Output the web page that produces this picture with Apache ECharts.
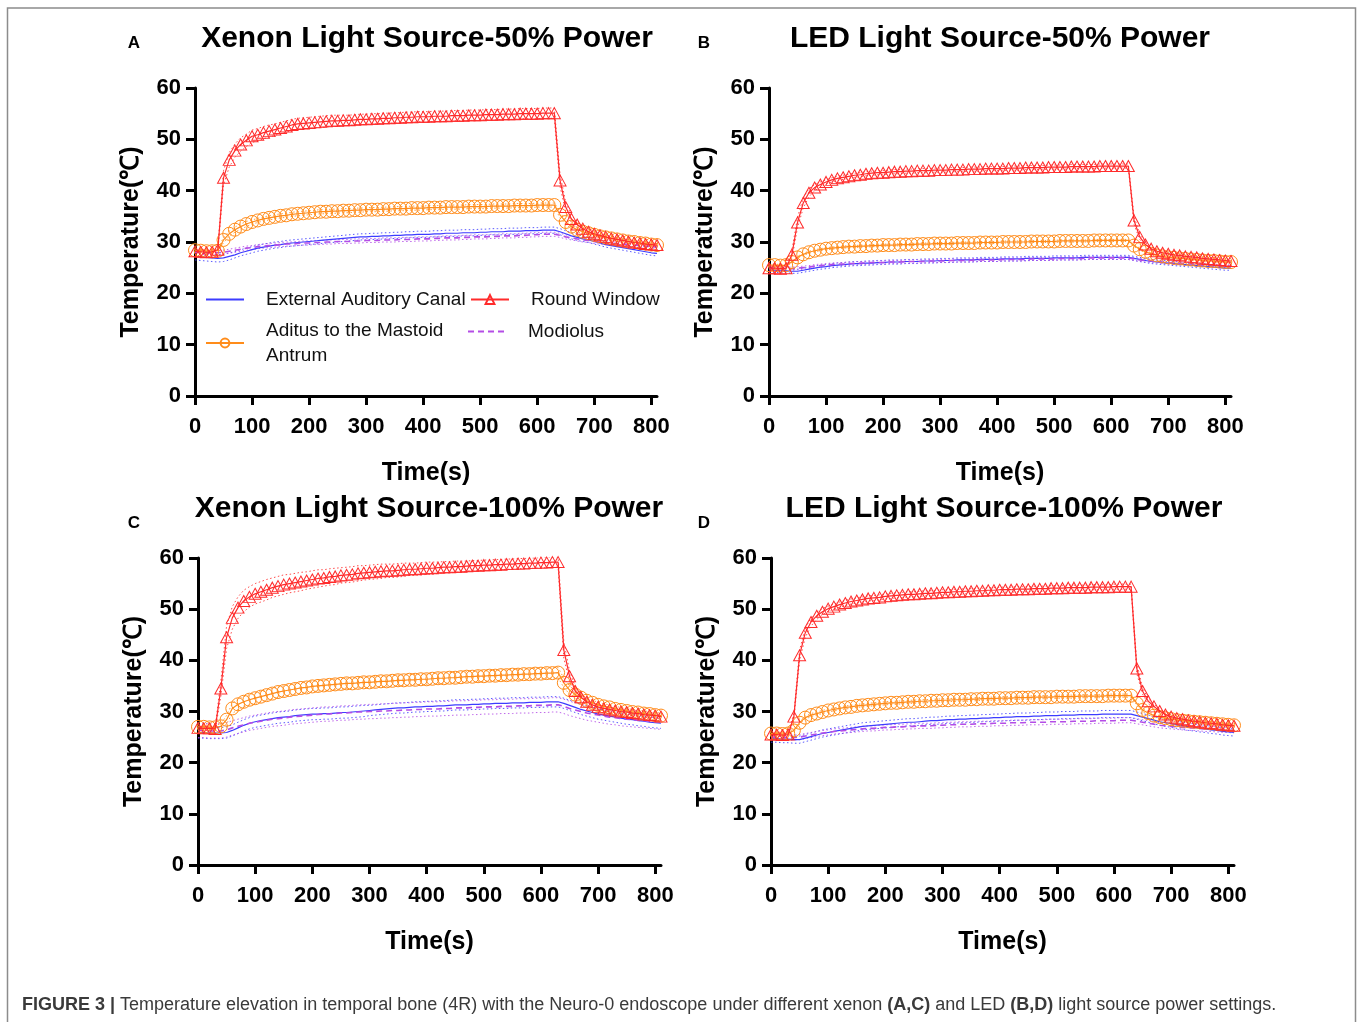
<!DOCTYPE html>
<html>
<head>
<meta charset="utf-8">
<title>Figure 3 - temperature elevation</title>
<script src="https://cdn.jsdelivr.net/npm/echarts@6/dist/echarts.min.js"></script>
<style>
  html, body { margin: 0; padding: 0; background: #fff; }
  #chart { width: 1358px; height: 1022px; }
</style>
</head>
<body>
<div id="chart"></div>
<script>
// time points (s), one reading every 10 s
const time = [
  0, 10, 20, 30, 40, 50, 60, 70, 80, 90,
  100, 110, 120, 130, 140, 150, 160, 170, 180, 190,
  200, 210, 220, 230, 240, 250, 260, 270, 280, 290,
  300, 310, 320, 330, 340, 350, 360, 370, 380, 390,
  400, 410, 420, 430, 440, 450, 460, 470, 480, 490,
  500, 510, 520, 530, 540, 550, 560, 570, 580, 590,
  600, 610, 620, 630, 640, 650, 660, 670, 680, 690,
  700, 710, 720, 730, 740, 750, 760, 770, 780, 790,
  800, 810
]
const xTicks = [0, 100, 200, 300, 400, 500, 600, 700, 800]

// ---- A: Xenon 50% ----
const rwA = [
  28.2, 28.1, 28.0, 28.1, 28.5, 42.5, 46.0, 47.8, 49.0, 49.8,
  50.6, 50.9, 51.3, 51.6, 51.9, 52.2, 52.5, 52.8, 53.0, 53.1,
  53.2, 53.3, 53.4, 53.5, 53.6, 53.6, 53.7, 53.7, 53.8, 53.9,
  53.9, 54.0, 54.0, 54.1, 54.1, 54.2, 54.2, 54.3, 54.3, 54.4,
  54.4, 54.4, 54.5, 54.5, 54.5, 54.6, 54.6, 54.6, 54.7, 54.7,
  54.7, 54.8, 54.8, 54.8, 54.9, 54.9, 54.9, 55.0, 55.0, 55.0,
  55.0, 55.1, 55.1, 55.1, 42.0, 36.8, 34.5, 33.4, 32.6, 32.0,
  31.6, 31.3, 31.0, 30.7, 30.5, 30.3, 30.1, 29.9, 29.8, 29.6,
  29.5, 29.4
]
const rwA_sd = [
  0.3, 0.3, 0.3, 0.3, 0.4, 1.4, 1.4, 1.3, 1.3, 1.2,
  1.2, 1.2, 1.2, 1.2, 1.1, 1.1, 1.1, 1.1, 1.1, 1.1,
  1.1, 1.1, 1.1, 1.1, 1.1, 1.1, 1.0, 1.0, 1.0, 1.0,
  1.0, 1.0, 1.0, 1.0, 1.0, 1.0, 1.0, 1.0, 1.0, 1.0,
  1.0, 1.0, 1.0, 1.0, 1.0, 1.0, 1.0, 1.0, 1.0, 1.0,
  1.0, 1.0, 1.0, 1.0, 1.0, 1.0, 1.0, 1.0, 1.0, 1.0,
  1.0, 1.0, 1.0, 1.0, 1.2, 0.9, 0.7, 0.6, 0.5, 0.5,
  0.5, 0.4, 0.4, 0.4, 0.4, 0.4, 0.4, 0.3, 0.3, 0.3,
  0.3, 0.3
]
const adA = [
  28.4, 28.3, 28.2, 28.2, 28.3, 30.4, 31.6, 32.4, 33.0, 33.5,
  33.9, 34.2, 34.5, 34.7, 34.9, 35.1, 35.2, 35.4, 35.5, 35.6,
  35.7, 35.8, 35.9, 35.9, 36.0, 36.0, 36.1, 36.1, 36.2, 36.2,
  36.3, 36.3, 36.3, 36.4, 36.4, 36.5, 36.5, 36.5, 36.6, 36.6,
  36.6, 36.7, 36.7, 36.7, 36.8, 36.8, 36.8, 36.8, 36.9, 36.9,
  36.9, 36.9, 37.0, 37.0, 37.0, 37.0, 37.1, 37.1, 37.1, 37.1,
  37.2, 37.2, 37.2, 37.2, 35.3, 33.9, 33.0, 32.4, 32.0, 31.7,
  31.4, 31.1, 30.9, 30.7, 30.5, 30.3, 30.1, 30.0, 29.8, 29.7,
  29.5, 29.4
]
const adA_sd = [
  0.3, 0.3, 0.3, 0.3, 0.3, 0.5, 0.5, 0.5, 0.5, 0.5,
  0.4, 0.4, 0.4, 0.4, 0.4, 0.4, 0.4, 0.4, 0.4, 0.4,
  0.4, 0.4, 0.4, 0.4, 0.4, 0.4, 0.4, 0.4, 0.4, 0.4,
  0.4, 0.4, 0.4, 0.4, 0.4, 0.4, 0.4, 0.4, 0.4, 0.4,
  0.4, 0.4, 0.4, 0.4, 0.4, 0.4, 0.4, 0.4, 0.4, 0.4,
  0.4, 0.4, 0.4, 0.4, 0.4, 0.4, 0.4, 0.4, 0.4, 0.4,
  0.4, 0.4, 0.4, 0.4, 0.6, 0.5, 0.4, 0.4, 0.3, 0.3,
  0.3, 0.3, 0.3, 0.3, 0.3, 0.3, 0.3, 0.3, 0.3, 0.3,
  0.3, 0.3
]
const eacA = [
  27.2, 27.1, 27.0, 26.9, 26.8, 26.9, 27.2, 27.5, 27.9, 28.2,
  28.5, 28.8, 29.0, 29.2, 29.4, 29.5, 29.7, 29.8, 29.9, 30.0,
  30.1, 30.2, 30.3, 30.4, 30.5, 30.6, 30.7, 30.8, 30.9, 31.0,
  31.0, 31.1, 31.1, 31.2, 31.2, 31.3, 31.3, 31.4, 31.4, 31.5,
  31.5, 31.5, 31.6, 31.6, 31.7, 31.7, 31.7, 31.8, 31.8, 31.8,
  31.9, 31.9, 32.0, 32.0, 32.0, 32.1, 32.1, 32.1, 32.2, 32.2,
  32.2, 32.3, 32.3, 32.3, 32.0, 31.6, 31.2, 30.9, 30.6, 30.4,
  30.1, 29.8, 29.5, 29.3, 29.1, 28.9, 28.7, 28.5, 28.3, 28.1,
  27.9, 27.8
]
const eacA_sd = [
  0.7, 0.7, 0.7, 0.7, 0.7, 0.7, 0.7, 0.6, 0.6, 0.6,
  0.6, 0.6, 0.6, 0.6, 0.6, 0.6, 0.6, 0.6, 0.6, 0.6,
  0.6, 0.6, 0.6, 0.6, 0.6, 0.6, 0.6, 0.6, 0.6, 0.6,
  0.6, 0.6, 0.6, 0.6, 0.6, 0.6, 0.6, 0.6, 0.6, 0.6,
  0.6, 0.6, 0.6, 0.6, 0.6, 0.6, 0.6, 0.6, 0.6, 0.6,
  0.6, 0.6, 0.6, 0.6, 0.6, 0.6, 0.6, 0.6, 0.6, 0.6,
  0.6, 0.6, 0.6, 0.6, 0.6, 0.6, 0.6, 0.6, 0.5, 0.5,
  0.5, 0.5, 0.5, 0.5, 0.5, 0.5, 0.5, 0.5, 0.5, 0.5,
  0.5, 0.5
]
const modA = [
  28.0, 28.0, 27.9, 27.9, 27.9, 28.0, 28.2, 28.4, 28.6, 28.8,
  28.9, 29.1, 29.2, 29.3, 29.4, 29.5, 29.6, 29.6, 29.7, 29.8,
  29.8, 29.9, 29.9, 30.0, 30.0, 30.1, 30.1, 30.1, 30.2, 30.2,
  30.3, 30.3, 30.3, 30.4, 30.4, 30.4, 30.5, 30.5, 30.5, 30.6,
  30.6, 30.6, 30.7, 30.7, 30.8, 30.8, 30.8, 30.9, 30.9, 31.0,
  31.0, 31.0, 31.1, 31.1, 31.2, 31.2, 31.2, 31.3, 31.3, 31.4,
  31.4, 31.5, 31.5, 31.5, 31.3, 31.0, 30.8, 30.6, 30.4, 30.3,
  30.1, 30.0, 29.9, 29.8, 29.7, 29.6, 29.5, 29.4, 29.3, 29.2,
  29.1, 29.0
]
const modA_sd = [
  0.4, 0.4, 0.4, 0.4, 0.4, 0.4, 0.4, 0.4, 0.4, 0.4,
  0.4, 0.4, 0.4, 0.4, 0.4, 0.4, 0.4, 0.4, 0.4, 0.4,
  0.4, 0.4, 0.4, 0.4, 0.4, 0.4, 0.4, 0.4, 0.4, 0.4,
  0.4, 0.4, 0.4, 0.4, 0.4, 0.4, 0.4, 0.4, 0.4, 0.4,
  0.4, 0.4, 0.4, 0.4, 0.4, 0.4, 0.4, 0.4, 0.4, 0.4,
  0.4, 0.4, 0.4, 0.4, 0.4, 0.4, 0.4, 0.4, 0.4, 0.4,
  0.4, 0.4, 0.4, 0.4, 0.4, 0.4, 0.4, 0.4, 0.4, 0.4,
  0.4, 0.4, 0.4, 0.4, 0.4, 0.4, 0.4, 0.4, 0.4, 0.4,
  0.4, 0.4
]

// ---- B: LED 50% ----
const rwB = [
  24.9, 24.9, 24.8, 24.9, 27.5, 33.8, 37.6, 39.6, 40.6, 41.2,
  41.7, 42.1, 42.4, 42.6, 42.8, 43.0, 43.1, 43.3, 43.4, 43.5,
  43.5, 43.6, 43.7, 43.7, 43.8, 43.8, 43.9, 43.9, 43.9, 44.0,
  44.0, 44.0, 44.1, 44.1, 44.1, 44.2, 44.2, 44.2, 44.3, 44.3,
  44.3, 44.3, 44.4, 44.4, 44.4, 44.5, 44.5, 44.5, 44.5, 44.6,
  44.6, 44.6, 44.6, 44.7, 44.7, 44.7, 44.7, 44.7, 44.8, 44.8,
  44.8, 44.8, 44.8, 44.8, 34.2, 31.0, 29.5, 28.7, 28.2, 27.9,
  27.7, 27.5, 27.4, 27.2, 27.1, 27.0, 26.8, 26.7, 26.6, 26.5,
  26.4, 26.3
]
const rwB_sd = [
  0.3, 0.3, 0.3, 0.3, 0.8, 1.0, 1.0, 0.8, 0.6, 0.5,
  0.4, 0.4, 0.4, 0.4, 0.4, 0.4, 0.4, 0.4, 0.4, 0.4,
  0.4, 0.4, 0.4, 0.4, 0.4, 0.4, 0.4, 0.4, 0.4, 0.4,
  0.4, 0.4, 0.4, 0.4, 0.4, 0.4, 0.4, 0.4, 0.4, 0.4,
  0.4, 0.4, 0.4, 0.4, 0.4, 0.4, 0.4, 0.4, 0.4, 0.4,
  0.4, 0.4, 0.4, 0.4, 0.4, 0.4, 0.4, 0.4, 0.4, 0.4,
  0.4, 0.4, 0.4, 0.4, 0.8, 0.5, 0.4, 0.3, 0.3, 0.3,
  0.3, 0.3, 0.3, 0.3, 0.3, 0.3, 0.3, 0.3, 0.3, 0.3,
  0.3, 0.3
]
const adB = [
  25.5, 25.5, 25.4, 25.5, 26.1, 27.0, 27.6, 28.0, 28.3, 28.5,
  28.7, 28.8, 28.9, 29.0, 29.1, 29.1, 29.2, 29.2, 29.3, 29.3,
  29.4, 29.4, 29.4, 29.5, 29.5, 29.5, 29.6, 29.6, 29.6, 29.7,
  29.7, 29.7, 29.7, 29.8, 29.8, 29.8, 29.8, 29.9, 29.9, 29.9,
  29.9, 30.0, 30.0, 30.0, 30.0, 30.0, 30.1, 30.1, 30.1, 30.1,
  30.1, 30.2, 30.2, 30.2, 30.2, 30.2, 30.2, 30.3, 30.3, 30.3,
  30.3, 30.3, 30.3, 30.3, 29.3, 28.6, 28.1, 27.7, 27.4, 27.2,
  27.0, 26.9, 26.8, 26.7, 26.6, 26.5, 26.4, 26.3, 26.3, 26.2,
  26.1, 26.1
]
const adB_sd = [
  0.2, 0.2, 0.2, 0.2, 0.2, 0.2, 0.2, 0.2, 0.2, 0.2,
  0.2, 0.2, 0.2, 0.2, 0.2, 0.2, 0.2, 0.2, 0.2, 0.2,
  0.2, 0.2, 0.2, 0.2, 0.2, 0.2, 0.2, 0.2, 0.2, 0.2,
  0.2, 0.2, 0.2, 0.2, 0.2, 0.2, 0.2, 0.2, 0.2, 0.2,
  0.2, 0.2, 0.2, 0.2, 0.2, 0.2, 0.2, 0.2, 0.2, 0.2,
  0.2, 0.2, 0.2, 0.2, 0.2, 0.2, 0.2, 0.2, 0.2, 0.2,
  0.2, 0.2, 0.2, 0.2, 0.2, 0.2, 0.2, 0.2, 0.2, 0.2,
  0.2, 0.2, 0.2, 0.2, 0.2, 0.2, 0.2, 0.2, 0.2, 0.2,
  0.2, 0.2
]
const eacB = [
  24.5, 24.5, 24.4, 24.4, 24.3, 24.3, 24.5, 24.7, 24.9, 25.1,
  25.2, 25.4, 25.5, 25.6, 25.7, 25.8, 25.8, 25.9, 25.9, 26.0,
  26.0, 26.1, 26.1, 26.1, 26.2, 26.2, 26.2, 26.3, 26.3, 26.3,
  26.4, 26.4, 26.4, 26.5, 26.5, 26.5, 26.5, 26.6, 26.6, 26.6,
  26.6, 26.7, 26.7, 26.7, 26.7, 26.8, 26.8, 26.8, 26.8, 26.8,
  26.9, 26.9, 26.9, 26.9, 26.9, 27.0, 27.0, 27.0, 27.0, 27.0,
  27.0, 27.0, 27.0, 27.0, 26.8, 26.6, 26.4, 26.2, 26.1, 26.0,
  25.9, 25.8, 25.7, 25.6, 25.5, 25.4, 25.3, 25.2, 25.1, 25.0,
  24.9, 24.9
]
const eacB_sd = [
  0.4, 0.4, 0.4, 0.4, 0.4, 0.4, 0.4, 0.4, 0.4, 0.4,
  0.4, 0.4, 0.4, 0.4, 0.4, 0.4, 0.4, 0.4, 0.4, 0.4,
  0.4, 0.4, 0.4, 0.4, 0.4, 0.4, 0.4, 0.4, 0.4, 0.4,
  0.4, 0.4, 0.4, 0.4, 0.4, 0.4, 0.4, 0.4, 0.4, 0.4,
  0.4, 0.4, 0.4, 0.4, 0.4, 0.4, 0.4, 0.4, 0.4, 0.4,
  0.4, 0.4, 0.4, 0.4, 0.4, 0.4, 0.4, 0.4, 0.4, 0.4,
  0.4, 0.4, 0.4, 0.4, 0.4, 0.4, 0.4, 0.4, 0.4, 0.4,
  0.4, 0.4, 0.4, 0.4, 0.4, 0.4, 0.4, 0.4, 0.4, 0.4,
  0.4, 0.4
]
const modB = [
  24.9, 24.9, 24.8, 24.8, 24.8, 24.9, 25.0, 25.1, 25.3, 25.4,
  25.5, 25.6, 25.7, 25.7, 25.8, 25.8, 25.9, 25.9, 26.0, 26.0,
  26.0, 26.1, 26.1, 26.1, 26.2, 26.2, 26.2, 26.2, 26.3, 26.3,
  26.3, 26.3, 26.4, 26.4, 26.4, 26.4, 26.5, 26.5, 26.5, 26.5,
  26.5, 26.6, 26.6, 26.6, 26.6, 26.6, 26.7, 26.7, 26.7, 26.7,
  26.7, 26.8, 26.8, 26.8, 26.8, 26.8, 26.9, 26.9, 26.9, 26.9,
  26.9, 26.9, 26.9, 26.9, 26.7, 26.5, 26.4, 26.3, 26.2, 26.1,
  26.0, 25.9, 25.8, 25.8, 25.7, 25.6, 25.5, 25.5, 25.4, 25.3,
  25.3, 25.2
]
const modB_sd = [
  0.3, 0.3, 0.3, 0.3, 0.3, 0.3, 0.3, 0.3, 0.3, 0.3,
  0.3, 0.3, 0.3, 0.3, 0.3, 0.3, 0.3, 0.3, 0.3, 0.3,
  0.3, 0.3, 0.3, 0.3, 0.3, 0.3, 0.3, 0.3, 0.3, 0.3,
  0.3, 0.3, 0.3, 0.3, 0.3, 0.3, 0.3, 0.3, 0.3, 0.3,
  0.3, 0.3, 0.3, 0.3, 0.3, 0.3, 0.3, 0.3, 0.3, 0.3,
  0.3, 0.3, 0.3, 0.3, 0.3, 0.3, 0.3, 0.3, 0.3, 0.3,
  0.3, 0.3, 0.3, 0.3, 0.3, 0.3, 0.3, 0.3, 0.3, 0.3,
  0.3, 0.3, 0.3, 0.3, 0.3, 0.3, 0.3, 0.3, 0.3, 0.3,
  0.3, 0.3
]

// ---- C: Xenon 100% ----
const rwC = [
  26.8, 26.7, 26.7, 26.6, 34.5, 44.5, 48.3, 50.3, 51.6, 52.4,
  53.0, 53.4, 53.8, 54.2, 54.5, 54.8, 55.0, 55.2, 55.4, 55.6,
  55.8, 56.0, 56.1, 56.3, 56.4, 56.6, 56.7, 56.8, 57.0, 57.1,
  57.2, 57.3, 57.4, 57.5, 57.5, 57.6, 57.7, 57.8, 57.8, 57.9,
  58.0, 58.0, 58.1, 58.2, 58.2, 58.3, 58.3, 58.4, 58.5, 58.5,
  58.6, 58.6, 58.7, 58.7, 58.8, 58.8, 58.9, 58.9, 59.0, 59.0,
  59.1, 59.1, 59.2, 59.2, 42.0, 36.9, 34.0, 32.8, 31.9, 31.3,
  30.9, 30.6, 30.4, 30.2, 30.0, 29.9, 29.7, 29.6, 29.4, 29.3,
  29.2, 29.0
]
const rwC_sd = [
  0.4, 0.4, 0.4, 0.4, 1.5, 2.2, 2.2, 2.1, 2.1, 2.0,
  2.0, 2.0, 2.0, 1.9, 1.9, 1.9, 1.8, 1.8, 1.8, 1.7,
  1.7, 1.7, 1.6, 1.6, 1.6, 1.5, 1.5, 1.5, 1.5, 1.4,
  1.4, 1.4, 1.4, 1.3, 1.3, 1.3, 1.3, 1.2, 1.2, 1.2,
  1.2, 1.2, 1.1, 1.1, 1.1, 1.1, 1.1, 1.0, 1.0, 1.0,
  1.0, 1.0, 1.0, 1.0, 1.0, 1.0, 1.0, 1.0, 1.0, 1.0,
  1.0, 1.0, 1.0, 1.0, 1.6, 1.0, 0.8, 0.7, 0.6, 0.6,
  0.5, 0.5, 0.5, 0.5, 0.5, 0.5, 0.5, 0.5, 0.5, 0.5,
  0.5, 0.5
]
const adC = [
  27.0, 27.0, 26.9, 26.9, 27.1, 28.4, 30.6, 31.4, 31.9, 32.3,
  32.6, 32.9, 33.2, 33.5, 33.8, 34.0, 34.2, 34.4, 34.6, 34.7,
  34.9, 35.0, 35.1, 35.2, 35.3, 35.4, 35.5, 35.5, 35.6, 35.7,
  35.7, 35.8, 35.9, 35.9, 36.0, 36.1, 36.1, 36.2, 36.2, 36.3,
  36.3, 36.4, 36.5, 36.5, 36.6, 36.6, 36.7, 36.8, 36.8, 36.9,
  36.9, 37.0, 37.0, 37.1, 37.1, 37.2, 37.2, 37.3, 37.3, 37.4,
  37.4, 37.5, 37.5, 37.6, 35.6, 34.2, 33.3, 32.7, 32.1, 31.7,
  31.3, 31.0, 30.8, 30.5, 30.3, 30.1, 29.9, 29.8, 29.6, 29.5,
  29.3, 29.2
]
const adC_sd = [
  0.4, 0.4, 0.4, 0.4, 0.5, 0.8, 1.0, 1.0, 1.0, 1.0,
  1.0, 1.0, 1.0, 1.0, 1.0, 1.0, 1.0, 1.0, 1.0, 1.0,
  1.0, 1.0, 1.0, 1.0, 1.0, 1.0, 1.0, 1.0, 1.0, 1.0,
  1.0, 1.0, 1.0, 1.0, 1.0, 1.0, 1.0, 1.0, 1.0, 1.0,
  1.0, 1.0, 1.0, 1.0, 1.0, 1.0, 1.0, 1.0, 1.0, 1.0,
  1.0, 1.0, 1.0, 1.0, 1.0, 1.0, 1.0, 1.0, 1.0, 1.0,
  1.0, 1.0, 1.0, 1.0, 0.9, 0.8, 0.7, 0.6, 0.6, 0.5,
  0.5, 0.5, 0.5, 0.5, 0.5, 0.5, 0.5, 0.5, 0.5, 0.5,
  0.5, 0.5
]
const eacC = [
  25.9, 25.9, 25.8, 25.8, 25.8, 25.9, 26.3, 26.8, 27.3, 27.7,
  28.0, 28.2, 28.4, 28.6, 28.8, 28.9, 29.0, 29.2, 29.3, 29.4,
  29.5, 29.5, 29.6, 29.6, 29.7, 29.8, 29.8, 29.9, 30.0, 30.1,
  30.2, 30.3, 30.4, 30.5, 30.6, 30.7, 30.7, 30.8, 30.9, 30.9,
  31.0, 31.0, 31.1, 31.1, 31.2, 31.3, 31.3, 31.3, 31.4, 31.4,
  31.5, 31.5, 31.6, 31.6, 31.6, 31.7, 31.7, 31.7, 31.8, 31.8,
  31.8, 31.9, 31.9, 31.9, 31.6, 31.2, 30.8, 30.4, 30.1, 29.8,
  29.5, 29.3, 29.1, 28.9, 28.7, 28.5, 28.4, 28.2, 28.1, 27.9,
  27.8, 27.7
]
const eacC_sd = [
  1.1, 1.1, 1.1, 1.1, 1.1, 1.1, 1.1, 1.1, 1.1, 1.1,
  1.1, 1.1, 1.1, 1.1, 1.1, 1.1, 1.1, 1.1, 1.1, 1.1,
  1.1, 1.1, 1.1, 1.1, 1.1, 1.1, 1.1, 1.1, 1.1, 1.1,
  1.0, 1.0, 1.0, 1.0, 1.0, 1.0, 1.0, 1.0, 1.0, 1.0,
  1.0, 1.0, 1.0, 1.0, 1.0, 1.0, 1.0, 1.0, 1.0, 1.0,
  1.0, 1.0, 1.0, 1.0, 1.0, 1.0, 1.0, 1.0, 1.0, 1.0,
  1.0, 1.0, 1.0, 1.0, 1.0, 1.0, 1.0, 1.0, 1.0, 1.0,
  1.0, 1.0, 1.0, 1.0, 1.0, 1.0, 1.0, 1.0, 1.0, 1.0,
  1.0, 1.0
]
const modC = [
  26.3, 26.3, 26.2, 26.2, 26.2, 26.4, 26.8, 27.1, 27.4, 27.7,
  27.9, 28.1, 28.3, 28.5, 28.6, 28.7, 28.9, 29.0, 29.1, 29.2,
  29.3, 29.4, 29.5, 29.5, 29.6, 29.7, 29.7, 29.8, 29.9, 29.9,
  30.0, 30.0, 30.1, 30.1, 30.2, 30.2, 30.3, 30.3, 30.4, 30.4,
  30.5, 30.5, 30.5, 30.6, 30.6, 30.7, 30.7, 30.7, 30.8, 30.8,
  30.9, 30.9, 30.9, 31.0, 31.0, 31.0, 31.1, 31.1, 31.1, 31.2,
  31.2, 31.2, 31.3, 31.3, 31.0, 30.6, 30.3, 30.0, 29.7, 29.5,
  29.3, 29.1, 28.9, 28.8, 28.6, 28.5, 28.4, 28.3, 28.2, 28.1,
  28.0, 27.9
]
const modC_sd = [
  1.4, 1.4, 1.4, 1.4, 1.4, 1.4, 1.4, 1.4, 1.4, 1.4,
  1.4, 1.4, 1.4, 1.4, 1.4, 1.4, 1.4, 1.4, 1.4, 1.4,
  1.4, 1.4, 1.4, 1.4, 1.4, 1.4, 1.4, 1.4, 1.4, 1.4,
  1.4, 1.4, 1.4, 1.4, 1.4, 1.4, 1.4, 1.4, 1.4, 1.4,
  1.4, 1.4, 1.4, 1.4, 1.4, 1.4, 1.4, 1.4, 1.4, 1.4,
  1.4, 1.4, 1.4, 1.4, 1.4, 1.4, 1.4, 1.4, 1.4, 1.4,
  1.4, 1.4, 1.4, 1.4, 1.4, 1.4, 1.4, 1.4, 1.4, 1.4,
  1.4, 1.4, 1.4, 1.4, 1.4, 1.4, 1.4, 1.4, 1.4, 1.4,
  1.4, 1.4
]

// ---- D: LED 100% ----
const rwD = [
  25.5, 25.5, 25.4, 25.5, 29.0, 41.0, 45.4, 47.5, 48.7, 49.5,
  50.1, 50.5, 50.9, 51.2, 51.5, 51.7, 51.9, 52.1, 52.2, 52.3,
  52.5, 52.6, 52.7, 52.8, 52.9, 52.9, 53.0, 53.1, 53.1, 53.2,
  53.3, 53.3, 53.4, 53.4, 53.5, 53.5, 53.6, 53.6, 53.7, 53.7,
  53.8, 53.8, 53.8, 53.9, 53.9, 53.9, 54.0, 54.0, 54.0, 54.1,
  54.1, 54.1, 54.2, 54.2, 54.2, 54.2, 54.3, 54.3, 54.3, 54.3,
  54.4, 54.4, 54.4, 54.4, 38.4, 34.0, 32.0, 31.0, 30.1, 29.4,
  29.0, 28.7, 28.5, 28.3, 28.1, 28.0, 27.8, 27.7, 27.6, 27.4,
  27.3, 27.2
]
const rwD_sd = [
  0.3, 0.3, 0.3, 0.3, 0.6, 1.0, 0.9, 0.8, 0.7, 0.6,
  0.5, 0.5, 0.5, 0.5, 0.5, 0.5, 0.5, 0.5, 0.5, 0.5,
  0.5, 0.5, 0.5, 0.5, 0.5, 0.5, 0.5, 0.5, 0.5, 0.5,
  0.5, 0.5, 0.5, 0.5, 0.5, 0.5, 0.5, 0.5, 0.5, 0.5,
  0.5, 0.5, 0.5, 0.5, 0.5, 0.5, 0.5, 0.5, 0.5, 0.5,
  0.5, 0.5, 0.5, 0.5, 0.5, 0.5, 0.5, 0.5, 0.5, 0.5,
  0.5, 0.5, 0.5, 0.5, 1.0, 0.6, 0.5, 0.4, 0.4, 0.3,
  0.3, 0.3, 0.3, 0.3, 0.3, 0.3, 0.3, 0.3, 0.3, 0.3,
  0.3, 0.3
]
const adD = [
  25.7, 25.7, 25.6, 25.7, 26.3, 27.8, 28.8, 29.3, 29.6, 29.9,
  30.2, 30.4, 30.6, 30.8, 30.9, 31.1, 31.2, 31.3, 31.4, 31.5,
  31.6, 31.7, 31.7, 31.8, 31.9, 31.9, 32.0, 32.0, 32.1, 32.1,
  32.2, 32.2, 32.3, 32.3, 32.3, 32.4, 32.4, 32.5, 32.5, 32.5,
  32.6, 32.6, 32.6, 32.7, 32.7, 32.7, 32.8, 32.8, 32.8, 32.8,
  32.9, 32.9, 32.9, 32.9, 33.0, 33.0, 33.0, 33.0, 33.0, 33.1,
  33.1, 33.1, 33.1, 33.1, 31.6, 30.3, 29.7, 29.2, 28.9, 28.7,
  28.5, 28.3, 28.2, 28.1, 28.0, 27.9, 27.8, 27.7, 27.6, 27.5,
  27.4, 27.3
]
const adD_sd = [
  0.3, 0.3, 0.3, 0.3, 0.3, 0.3, 0.3, 0.3, 0.3, 0.3,
  0.3, 0.3, 0.3, 0.3, 0.3, 0.3, 0.3, 0.3, 0.3, 0.3,
  0.3, 0.3, 0.3, 0.3, 0.3, 0.3, 0.3, 0.3, 0.3, 0.3,
  0.3, 0.3, 0.3, 0.3, 0.3, 0.3, 0.3, 0.3, 0.3, 0.3,
  0.3, 0.3, 0.3, 0.3, 0.3, 0.3, 0.3, 0.3, 0.3, 0.3,
  0.3, 0.3, 0.3, 0.3, 0.3, 0.3, 0.3, 0.3, 0.3, 0.3,
  0.3, 0.3, 0.3, 0.3, 0.3, 0.3, 0.3, 0.3, 0.3, 0.3,
  0.3, 0.3, 0.3, 0.3, 0.3, 0.3, 0.3, 0.3, 0.3, 0.3,
  0.3, 0.3
]
const eacD = [
  24.7, 24.7, 24.6, 24.6, 24.5, 24.5, 24.8, 25.1, 25.4, 25.7,
  25.9, 26.1, 26.3, 26.5, 26.7, 26.9, 27.1, 27.2, 27.3, 27.4,
  27.5, 27.6, 27.7, 27.8, 27.9, 27.9, 28.0, 28.1, 28.2, 28.2,
  28.3, 28.4, 28.4, 28.5, 28.5, 28.6, 28.6, 28.7, 28.7, 28.8,
  28.8, 28.9, 28.9, 29.0, 29.0, 29.0, 29.1, 29.1, 29.2, 29.2,
  29.2, 29.3, 29.3, 29.3, 29.4, 29.4, 29.4, 29.4, 29.5, 29.5,
  29.5, 29.5, 29.5, 29.5, 29.2, 28.9, 28.6, 28.3, 28.0, 27.8,
  27.6, 27.4, 27.2, 27.0, 26.9, 26.7, 26.6, 26.4, 26.3, 26.1,
  26.0, 25.9
]
const eacD_sd = [
  0.7, 0.7, 0.7, 0.7, 0.7, 0.7, 0.7, 0.7, 0.7, 0.7,
  0.7, 0.7, 0.7, 0.7, 0.7, 0.7, 0.7, 0.7, 0.7, 0.7,
  0.7, 0.7, 0.7, 0.7, 0.7, 0.7, 0.7, 0.7, 0.7, 0.7,
  0.7, 0.7, 0.7, 0.7, 0.7, 0.7, 0.7, 0.7, 0.7, 0.7,
  0.7, 0.7, 0.7, 0.7, 0.7, 0.7, 0.7, 0.7, 0.7, 0.7,
  0.7, 0.7, 0.7, 0.7, 0.7, 0.7, 0.7, 0.7, 0.7, 0.7,
  0.7, 0.7, 0.7, 0.7, 0.7, 0.7, 0.7, 0.7, 0.7, 0.7,
  0.7, 0.7, 0.7, 0.7, 0.7, 0.7, 0.7, 0.7, 0.7, 0.7,
  0.7, 0.7
]
const modD = [
  25.0, 25.0, 24.9, 24.9, 24.9, 25.0, 25.2, 25.4, 25.6, 25.8,
  25.9, 26.1, 26.2, 26.3, 26.4, 26.5, 26.6, 26.7, 26.7, 26.8,
  26.9, 26.9, 27.0, 27.0, 27.1, 27.1, 27.2, 27.2, 27.2, 27.3,
  27.3, 27.4, 27.4, 27.5, 27.5, 27.5, 27.6, 27.6, 27.6, 27.7,
  27.7, 27.7, 27.8, 27.8, 27.8, 27.9, 27.9, 27.9, 27.9, 28.0,
  28.0, 28.0, 28.0, 28.1, 28.1, 28.1, 28.1, 28.2, 28.2, 28.2,
  28.2, 28.3, 28.3, 28.3, 28.1, 27.9, 27.7, 27.5, 27.3, 27.2,
  27.1, 27.0, 26.9, 26.8, 26.8, 26.7, 26.6, 26.6, 26.5, 26.4,
  26.4, 26.3
]
const modD_sd = [
  0.5, 0.5, 0.5, 0.5, 0.5, 0.5, 0.5, 0.5, 0.5, 0.5,
  0.5, 0.5, 0.5, 0.5, 0.5, 0.5, 0.5, 0.5, 0.5, 0.5,
  0.5, 0.5, 0.5, 0.5, 0.5, 0.5, 0.5, 0.5, 0.5, 0.5,
  0.5, 0.5, 0.5, 0.5, 0.5, 0.5, 0.5, 0.5, 0.5, 0.5,
  0.5, 0.5, 0.5, 0.5, 0.5, 0.5, 0.5, 0.5, 0.5, 0.5,
  0.5, 0.5, 0.5, 0.5, 0.5, 0.5, 0.5, 0.5, 0.5, 0.5,
  0.5, 0.5, 0.5, 0.5, 0.5, 0.5, 0.5, 0.5, 0.5, 0.5,
  0.5, 0.5, 0.5, 0.5, 0.5, 0.5, 0.5, 0.5, 0.5, 0.5,
  0.5, 0.5
]

const font = '"Liberation Sans", Arial, Helvetica, sans-serif'
const names = {
  eac: 'External Auditory Canal',
  adi: 'Aditus to the Mastoid Antrum',
  rw: 'Round Window',
  mod: 'Modiolus'
}
const colors = { eac: '#3c3cff', adi: '#ff8c1a', rw: '#ff2b2b', mod: '#b44de6' }

const panels = [
  { title: 'Xenon Light Source-50% Power', letter: 'A', titleX: 427, titleY: 39, letterX: 134, letterY: 43,
    grid: { left: 195, top: 88, width: 462, height: 308 },
    eac: [eacA, eacA_sd], adi: [adA, adA_sd], rw: [rwA, rwA_sd], mod: [modA, modA_sd] },
  { title: 'LED Light Source-50% Power', letter: 'B', titleX: 1000, titleY: 39, letterX: 704, letterY: 43,
    grid: { left: 769, top: 88, width: 462, height: 308 },
    eac: [eacB, eacB_sd], adi: [adB, adB_sd], rw: [rwB, rwB_sd], mod: [modB, modB_sd] },
  { title: 'Xenon Light Source-100% Power', letter: 'C', titleX: 429, titleY: 509, letterX: 134, letterY: 523,
    grid: { left: 198, top: 558, width: 463, height: 307 },
    eac: [eacC, eacC_sd], adi: [adC, adC_sd], rw: [rwC, rwC_sd], mod: [modC, modC_sd] },
  { title: 'LED Light Source-100% Power', letter: 'D', titleX: 1004, titleY: 509, letterX: 704, letterY: 523,
    grid: { left: 771, top: 558, width: 463, height: 307 },
    eac: [eacD, eacD_sd], adi: [adD, adD_sd], rw: [rwD, rwD_sd], mod: [modD, modD_sd] }
]

function pairs(vals) {
  return time.map((t, i) => [t, vals[i]])
}

function bandLine(p, key, mean, sd, sign) {
  return {
    type: 'line', xAxisIndex: p, yAxisIndex: p, silent: true, symbol: 'none', z: 1,
    animation: false,
    lineStyle: { color: colors[key], width: 1, type: [1.5, 2.5], opacity: 0.85 },
    data: pairs(mean.map((v, i) => +(v + sign * sd[i]).toFixed(2)))
  }
}

function meanLine(p, key, mean) {
  const s = {
    type: 'line', xAxisIndex: p, yAxisIndex: p,
    name: p === 0 ? names[key] : names[key] + ' ' + p,
    animation: false,
    lineStyle: { color: colors[key], width: 1.2 },
    data: pairs(mean)
  }
  if (key === 'eac') {
    s.symbol = 'none'
    s.z = 3
  } else if (key === 'mod') {
    s.symbol = 'none'
    s.lineStyle = { color: colors.mod, width: 1.6, type: [6, 4] }
    s.z = 3
  } else if (key === 'adi') {
    s.symbol = 'circle'
    s.symbolSize = 13
    s.itemStyle = { color: 'transparent', borderColor: colors.adi, borderWidth: 1 }
    s.z = 4
  } else {
    s.symbol = 'triangle'
    s.symbolSize = [12, 11]
    s.itemStyle = { color: 'transparent', borderColor: colors.rw, borderWidth: 1 }
    s.z = 5
  }
  return s
}

const grids = []
const xAxes = []
const yAxes = []
const series = []
const graphics = []

const axisBase = {
  axisLine: { show: true, onZero: false, lineStyle: { color: '#000', width: 3 } },
  axisTick: { show: true, length: 9, lineStyle: { color: '#000', width: 3 } },
  splitLine: { show: false },
  nameTextStyle: { fontSize: 25, fontWeight: 'bold', color: '#000', fontFamily: font }
}

panels.forEach((pn, p) => {
  grids.push(Object.assign({ containLabel: false, outerBoundsMode: 'none' }, pn.grid))
  xAxes.push(Object.assign({}, axisBase, {
    gridIndex: p, type: 'value', min: 0, max: 810,
    name: 'Time(s)', nameLocation: 'middle', nameGap: 65,
    axisTick: Object.assign({}, axisBase.axisTick, { customValues: xTicks }),
    axisLabel: { customValues: xTicks, fontSize: 22, fontWeight: 'bold', color: '#000', margin: 20, fontFamily: font }
  }))
  yAxes.push(Object.assign({}, axisBase, {
    gridIndex: p, type: 'value', min: 0, max: 60, interval: 10,
    name: 'Temperature(℃)', nameLocation: 'middle', nameGap: 51, nameRotate: 90,
    axisLabel: { fontSize: 22, fontWeight: 'bold', color: '#000', margin: 14, fontFamily: font }
  }))
  ;['eac', 'mod', 'adi', 'rw'].forEach(key => {
    const [mean, sd] = pn[key]
    series.push(bandLine(p, key, mean, sd, 1))
    series.push(bandLine(p, key, mean, sd, -1))
  })
  ;['eac', 'mod', 'adi', 'rw'].forEach(key => {
    series.push(meanLine(p, key, pn[key][0]))
  })
  graphics.push({
    type: 'text', x: pn.titleX, y: pn.titleY,
    style: { text: pn.title, fontSize: 30, fontWeight: 'bold', fontFamily: font, fill: '#000', align: 'center', verticalAlign: 'middle' }
  })
  graphics.push({
    type: 'text', x: pn.letterX, y: pn.letterY,
    style: { text: pn.letter, fontSize: 17, fontWeight: 'bold', fontFamily: font, fill: '#000', align: 'center', verticalAlign: 'middle' }
  })
})

graphics.push({
  type: 'rect', silent: true,
  shape: { x: 7.5, y: 8, width: 1348, height: 1040 },
  style: { fill: 'none', stroke: '#8c8c8c', lineWidth: 1.5 }
})
graphics.push({
  type: 'text', x: 22, y: 1005,
  style: {
    text: '{b|FIGURE 3 |} Temperature elevation in temporal bone (4R) with the Neuro-0 endoscope under different xenon {b|(A,C)} and LED {b|(B,D)} light source power settings.',
    fontSize: 18, fontFamily: font, fill: '#3a3a3a', verticalAlign: 'middle',
    rich: { b: { fontSize: 18, fontWeight: 'bold', fontFamily: font, fill: '#3a3a3a' } }
  }
})

// legend items of plain lines must not show a marker
const noMarker = { opacity: 0 }
const legendBase = {
  orient: 'horizontal', padding: 0, itemWidth: 38, itemHeight: 11, itemGap: 0,
  selectedMode: false,
  textStyle: { fontSize: 19, color: '#111', fontFamily: font, lineHeight: 25, padding: [0, 0, 0, 17] }
}
const legends = [
  Object.assign({}, legendBase, { data: [{ name: names.eac, itemStyle: noMarker }], left: 205, top: 287 }),
  Object.assign({}, legendBase, { data: [names.rw], left: 470, top: 287 }),
  Object.assign({}, legendBase, { data: [names.adi], left: 205, top: 318,
    formatter: () => 'Aditus to the Mastoid\nAntrum' }),
  Object.assign({}, legendBase, { data: [{ name: names.mod, itemStyle: noMarker }], left: 467, top: 319 })
]

const chart = echarts.init(document.getElementById('chart'), null, { renderer: 'canvas' })
chart.setOption({
  backgroundColor: '#fff',
  animation: false,
  grid: grids,
  xAxis: xAxes,
  yAxis: yAxes,
  legend: legends,
  series: series,
  graphic: graphics
})
window.addEventListener('resize', () => chart.resize())
</script>
</body>
</html>
